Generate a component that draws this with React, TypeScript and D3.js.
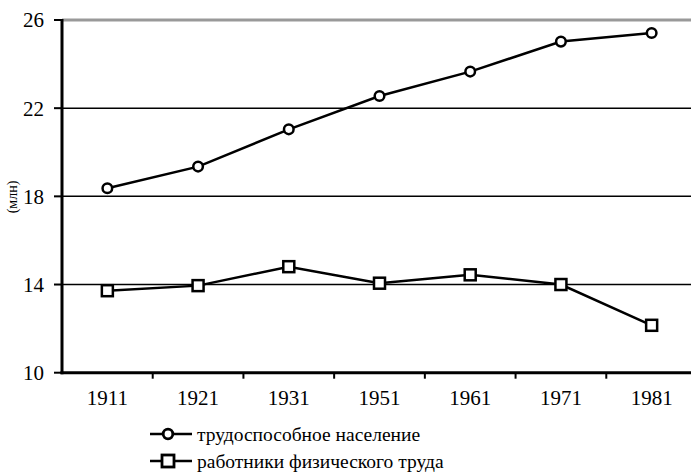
import React from "react";
import * as d3 from "d3";

const years = ["1911", "1921", "1931", "1951", "1961", "1971", "1981"];
const workingAge = [18.37, 19.35, 21.04, 22.55, 23.66, 25.02, 25.41];
const manualWorkers = [13.72, 13.95, 14.81, 14.06, 14.44, 14.0, 12.15];
const yTicks = [10, 14, 18, 22, 26];
const seriesNames = ["трудоспособное население", "работники физического труда"];
const yUnit = "(млн)";

const FONT = "Liberation Serif";

export default function App() {
  const W = 691, H = 472;
  const left = 62, right = 697, top = 20, bottom = 372.7;
  const x = d3.scaleBand<string>().domain(years).range([left, right]);
  const y = d3.scaleLinear().domain([10, 26]).range([bottom, top]);
  const cx = (i: number) => (x(years[i]) as number) + x.bandwidth() / 2;
  const line = d3
    .line<number>()
    .x((_, i) => cx(i))
    .y((d) => y(d));
  const ts = { fontFamily: FONT };

  return (
    <svg width={W} height={H} style={{ position: "absolute", left: 0, top: 0, background: "#fff" }}>
      {yTicks.filter((t) => t !== 10).map((t) => (
        <line
          key={t}
          x1={left}
          x2={W}
          y1={y(t)}
          y2={y(t)}
          stroke={t === 26 ? "#999" : "#000"}
          strokeWidth={t === 26 ? 3 : 1.5}
        />
      ))}
      <line x1={left} x2={left} y1={top - 1} y2={bottom + 1.5} stroke="#000" strokeWidth={3} />
      {yTicks.map((t) => (
        <g key={t}>
          <line x1={left - 8} x2={left} y1={y(t)} y2={y(t)} stroke="#000" strokeWidth={2} />
          <text x={44} y={y(t)} dy="0.35em" textAnchor="end" fontSize={21} fill="#000" style={ts}>
            {t}
          </text>
        </g>
      ))}
      <text transform={`translate(17,197) rotate(-90)`} textAnchor="middle" fontSize={14} fill="#000" style={ts}>
        {yUnit}
      </text>
      <line x1={left - 1.5} x2={W} y1={bottom} y2={bottom} stroke="#000" strokeWidth={3} />
      {years.map((yr, i) =>
        i > 0 ? (
          <line
            key={"t" + yr}
            x1={x(yr) as number}
            x2={x(yr) as number}
            y1={bottom}
            y2={bottom + 6}
            stroke="#000"
            strokeWidth={2}
          />
        ) : null
      )}
      {years.map((yr, i) => (
        <text key={yr} x={cx(i)} y={405} textAnchor="middle" fontSize={21} fill="#000" style={ts}>
          {yr}
        </text>
      ))}
      <path d={line(workingAge) || ""} fill="none" stroke="#000" strokeWidth={2.5} />
      <path d={line(manualWorkers) || ""} fill="none" stroke="#000" strokeWidth={2.5} />
      {workingAge.map((v, i) => (
        <circle key={"c" + i} cx={cx(i)} cy={y(v)} r={4.8} fill="#fff" stroke="#000" strokeWidth={2.5} />
      ))}
      {manualWorkers.map((v, i) => (
        <rect
          key={"s" + i}
          x={cx(i) - 5.5}
          y={y(v) - 5.5}
          width={11}
          height={11}
          fill="#fff"
          stroke="#000"
          strokeWidth={2.5}
        />
      ))}
      <g>
        <line x1={150} x2={192} y1={434} y2={434} stroke="#000" strokeWidth={2.5} />
        <circle cx={168} cy={434} r={4.8} fill="#fff" stroke="#000" strokeWidth={2.8} />
        <text x={197} y={434} dy="0.35em" fontSize={19.5} fill="#000" style={ts}>
          {seriesNames[0]}
        </text>
        <line x1={150} x2={192} y1={461} y2={461} stroke="#000" strokeWidth={2.5} />
        <rect x={162} y={455} width={12} height={12} fill="#fff" stroke="#000" strokeWidth={2.8} />
        <text x={197} y={461} dy="0.35em" fontSize={19.5} fill="#000" style={ts}>
          {seriesNames[1]}
        </text>
      </g>
    </svg>
  );
}
